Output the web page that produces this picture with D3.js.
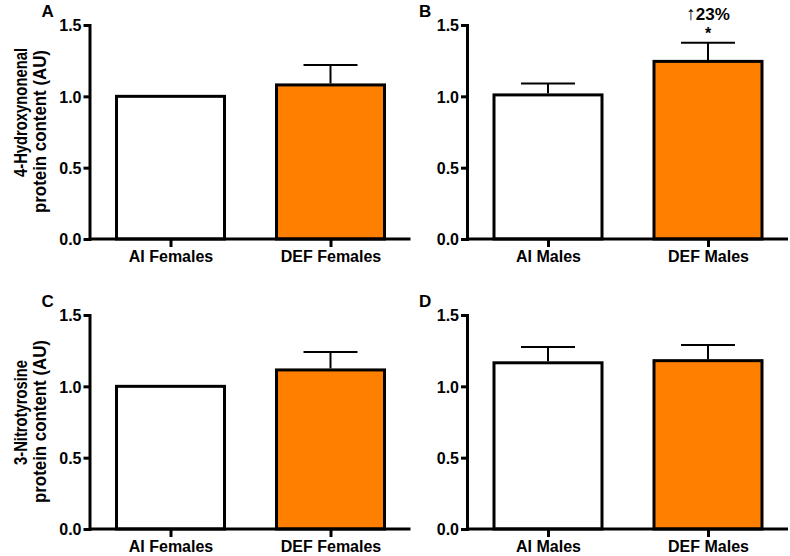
<!DOCTYPE html>
<html>
<head>
<meta charset="utf-8">
<script src="https://cdn.jsdelivr.net/npm/d3@7"></script>
<style>
  html, body { margin: 0; padding: 0; background: #fff; }
  svg text { font-family: "Liberation Sans", Arial, Helvetica, sans-serif; font-weight: bold; fill: #000; }
</style>
</head>
<body>
<svg id="chart" width="790" height="556"></svg>
<script>
// ---- data ----
const femaleGroups = ["AI Females", "DEF Females"];
const maleGroups = ["AI Males", "DEF Males"];
const yTicks = [0, 0.5, 1.0, 1.5];
const yMax = 1.5;

const hneFemalesMean = [1.00, 1.08];
const hneFemalesErr  = [0.00, 0.14];
const hneMalesMean   = [1.01, 1.245];
const hneMalesErr    = [0.08, 0.13];
const ntFemalesMean  = [1.00, 1.115];
const ntFemalesErr   = [0.00, 0.125];
const ntMalesMean    = [1.165, 1.18];
const ntMalesErr     = [0.11, 0.11];

const panelLetters = ["A", "B", "C", "D"];
const yTitleHNE = ["4-Hydroxynonenal", "protein content (AU)"];
const yTitleNT  = ["3-Nitrotyrosine", "protein content (AU)"];
const barColors = ["#ffffff", "#ff8000"];
const annotArrow = "\u2191";
const annotPct = "23%";
const annotStar = "*";

// ---- layout ----
const svg = d3.select("#chart");
const panels = [
  { letter: panelLetters[0], cats: femaleGroups, mean: hneFemalesMean, err: hneFemalesErr, x0: 89.5, top: 25, bottom: 239,
    title: yTitleHNE, titleSpans: [[177, 48], [213, 50]] },
  { letter: panelLetters[1], cats: maleGroups,   mean: hneMalesMean,   err: hneMalesErr,   x0: 467,  top: 25, bottom: 239, title: null, annot: 1 },
  { letter: panelLetters[2], cats: femaleGroups, mean: ntFemalesMean,  err: ntFemalesErr,  x0: 89.5, top: 315, bottom: 529,
    title: yTitleNT, titleSpans: [[465, 360], [503, 340]] },
  { letter: panelLetters[3], cats: maleGroups,   mean: ntMalesMean,    err: ntMalesErr,    x0: 467,  top: 315, bottom: 529, title: null }
];

const plotW = 321;
const barHalf = 54;
const capHalf = 27;

panels.forEach(p => {
  const g = svg.append("g");
  const x = d3.scalePoint().domain(p.cats).range([p.x0 + 1, p.x0 + plotW]).padding(0.5);
  const y = d3.scaleLinear().domain([0, yMax]).range([p.bottom, p.top]);

  // bars
  g.selectAll("rect.bar").data(p.cats).enter().append("rect")
    .attr("x", d => x(d) - barHalf)
    .attr("y", (d, i) => y(p.mean[i]))
    .attr("width", barHalf * 2)
    .attr("height", (d, i) => y(0) - y(p.mean[i]))
    .attr("fill", (d, i) => barColors[i])
    .attr("stroke", "#000")
    .attr("stroke-width", 3);

  // error bars (upper only)
  p.cats.forEach((c, i) => {
    if (p.err[i] <= 0) return;
    const cx = x(c);
    g.append("line").attr("x1", cx).attr("x2", cx)
      .attr("y1", y(p.mean[i]) - 1.5).attr("y2", y(p.mean[i] + p.err[i]))
      .attr("stroke", "#000").attr("stroke-width", 2);
    g.append("line").attr("x1", cx - capHalf).attr("x2", cx + capHalf)
      .attr("y1", y(p.mean[i] + p.err[i])).attr("y2", y(p.mean[i] + p.err[i]))
      .attr("stroke", "#000").attr("stroke-width", 2);
  });

  // y axis
  const ya = g.append("g").attr("transform", `translate(${p.x0},0)`)
    .call(d3.axisLeft(y).tickValues(yTicks).tickFormat(d3.format(".1f")).tickSize(6).tickSizeOuter(0).tickPadding(2));
  ya.select(".domain").attr("stroke-width", 3).attr("stroke-linecap", "square");
  ya.selectAll(".tick line").attr("stroke-width", 3);
  ya.selectAll(".tick text").style("font-size", "16px").attr("dy", "0.36em");

  // x axis
  const xa = g.append("g").attr("transform", `translate(0,${p.bottom})`)
    .call(d3.axisBottom(x).tickSize(8).tickSizeOuter(0).tickPadding(4));
  xa.select(".domain").attr("stroke-width", 3).attr("d", `M${p.x0},0H${p.x0 + plotW}`);
  xa.selectAll(".tick line").attr("stroke-width", 3);
  xa.selectAll(".tick text").style("font-size", "16px");

  // panel letter
  g.append("text").attr("x", p.x0 - 48).attr("y", p.top - 8)
    .style("font-size", "17px").text(p.letter);

  // y title (two lines, rotated)
  if (p.title) {
    [26.5, 45.5].forEach((bx, k) => {
      const [yStart, yEnd] = p.titleSpans[k];
      g.append("text")
        .attr("transform", `translate(${bx},${yStart}) rotate(-90)`)
        .attr("text-anchor", "start")
        .attr("textLength", yStart - yEnd)
        .attr("lengthAdjust", "spacingAndGlyphs")
        .style("font-size", "19px")
        .text(p.title[k]);
    });
  }

  // annotation
  if (p.annot !== undefined) {
    const cx = x(p.cats[p.annot]);
    const t = g.append("text").attr("x", cx).attr("y", 20).attr("text-anchor", "middle").style("font-size", "17px");
    t.append("tspan").style("font-weight", "normal").style("font-size", "19px").text(annotArrow);
    t.append("tspan").text(annotPct);
    g.append("text").attr("x", cx).attr("y", 39).attr("text-anchor", "middle").style("font-size", "16px").text(annotStar);
  }
});
</script>
</body>
</html>
